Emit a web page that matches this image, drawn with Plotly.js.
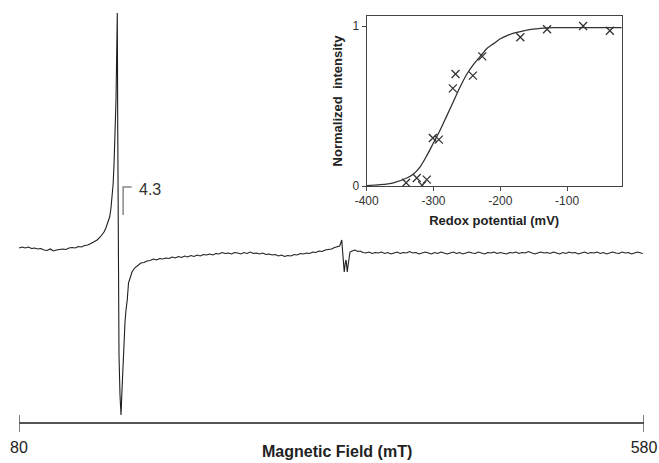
<!DOCTYPE html>
<html>
<head>
<meta charset="utf-8">
<script src="https://cdn.plot.ly/plotly-3.0.1.min.js"></script>
<style>html,body{margin:0;padding:0;background:#fff;}#chart{width:659px;height:463px;}</style>
</head>
<body>
<div id="chart"></div>
<script>
// ---- Main EPR spectrum (magnetic field in mT, signal in arbitrary units) ----
const fieldMT = [80,82.5,85,87.5,90,92.5,95,97.5,100,102.5,105,107.5,110,112.5,115,117.5,120,122.5,125,127.5,130,132.5,135,137.5,140,142.5,145,146.5,148,149.5,151,152.5,153.5,154.5,155.3,156,156.8,157.6,158.2,158.64,159.0,159.44,160.0,160.8,161.6,162.4,163.2,164.0,164.8,165.6,166.6,167.6,168.8,170.4,172.5,175,177.5,180,182.5,185,187.5,190,192.5,195,197.5,200,202.5,205,207.5,210,212.5,215,217.5,220,222.5,225,227.5,230,232.5,235,237.5,240,242.5,245,247.5,250,252.5,255,257.5,260,262.5,265,267.5,270,272.5,275,277.5,280,282.5,285,287.5,290,292.5,295,297.5,300,302.5,305,307.5,310,312.5,315,317.5,320,322.5,325,327.5,330,332.5,335,336.5,337.4,338.2,338.8,339.4,340.2,341.0,341.6,342.1,342.6,343.4,344.8,346.5,348.8,351,353,355,357.5,360,362.5,365,367.5,370,372.5,375,377.5,380,382.5,385,387.5,390,392.5,395,397.5,400,402.5,405,407.5,410,412.5,415,417.5,420,422.5,425,427.5,430,432.5,435,437.5,440,442.5,445,447.5,450,452.5,455,457.5,460,462.5,465,467.5,470,472.5,475,477.5,480,482.5,485,487.5,490,492.5,495,497.5,500,502.5,505,507.5,510,512.5,515,517.5,520,522.5,525,527.5,530,532.5,535,537.5,540,542.5,545,547.5,550,552.5,555,557.5,560,562.5,565,567.5,570,572.5,575,577.5,579];
const signal = [2,3,2,3,1.5,2,1,1.5,0,-0.5,1,-1,0,0.5,1,0.5,2,2.5,2,3.5,3,4.5,5,6.5,8,10,13,15,18,22,27,33,41,52,66,85,110,150,200,237,120,-50,-105,-145,-165,-140,-112,-90,-72,-60,-50,-33,-27,-22,-18,-15.5,-13,-12.5,-11,-10.5,-9,-10,-8.5,-9,-8,-8.5,-7,-8,-6.5,-7.5,-6,-7,-5.5,-6.5,-5,-6,-4.5,-5,-4,-5,-3.5,-4,-2.5,-3.5,-3,-4,-2.5,-3,-4,-2.5,-3.5,-2,-3.5,-3,-4,-3,-4.5,-4,-5,-4.5,-6,-5,-6.5,-5.5,-6,-4.5,-5,-3.5,-4,-3,-3.5,-2,-2.5,-1,-1.5,0,0.5,1,2.5,3,4,7,10,0,-12,-22,-13,-10,-15,-22,-14,-2,-1,0,-1.5,-1,-2.5,-3,-2,-3.5,-2.5,-3,-2,-3.5,-2.5,-4,-3,-2,-3.5,-2.5,-3,-1.5,-3,-2.5,-4,-3,-2,-3,-4,-2.5,-3.5,-2,-3,-4,-3,-2,-3.5,-2.5,-4,-3,-2,-3,-3.5,-2,-3,-4,-2.5,-3,-2,-3.5,-2.5,-3,-4,-2.5,-3,-2,-3.5,-2.5,-3,-1.5,-3,-4,-3,-2,-3,-2.5,-3.5,-2,-3,-4,-2.5,-3.5,-2,-3,-2.5,-4,-3,-2,-3.5,-2.5,-3,-2,-3.5,-2.5,-4,-3,-2,-3,-3.5,-2,-3,-2.5,-4,-3,-2,-3,-3.5];
const fieldTicks = [80, 580];
const fieldTickText = ['80', '580'];

// g = 4.3 marker
const gLabel = '4.3';
const gMarkField = [163.3, 170.2];
const gMarkSignal = [35, 63];

// ---- Inset: redox titration ----
const redoxPotential = [-341,-325,-317,-310,-301,-292,-271,-267,-241,-227,-170,-130,-76,-36];
const normIntensity  = [0.02,0.05,0.004,0.04,0.30,0.29,0.61,0.70,0.69,0.81,0.93,0.98,1.0,0.97];
const fitPotential = [-400,-380,-360,-340,-330,-320,-310,-300,-290,-280,-270,-260,-250,-240,-230,-220,-210,-200,-190,-180,-160,-140,-120,-80,-18];
const fitIntensity = [0.003,0.008,0.02,0.05,0.075,0.12,0.19,0.27,0.35,0.44,0.53,0.62,0.70,0.76,0.81,0.86,0.89,0.92,0.94,0.955,0.975,0.985,0.99,0.99,0.99];
const redoxTicks = [-400,-300,-200,-100];
const redoxTickText = ['-400','-300','-200','-100'];
const intensityTicks = [0, 1];

const FONT = 'Liberation Sans, Arial, Helvetica, sans-serif';

const traces = [
  {x: fieldMT, y: signal, xaxis: 'x', yaxis: 'y', type: 'scatter', mode: 'lines',
   line: {color: '#1e1e1e', width: 1.1}, hoverinfo: 'skip'},
  {x: fitPotential, y: fitIntensity, xaxis: 'x2', yaxis: 'y2', type: 'scatter', mode: 'lines',
   line: {color: '#333', width: 1.3, shape: 'spline', smoothing: 0.8}, hoverinfo: 'skip'},
  {x: redoxPotential, y: normIntensity, xaxis: 'x2', yaxis: 'y2', type: 'scatter', mode: 'markers',
   marker: {symbol: 'x-thin-open', size: 8, color: '#333', line: {color: '#333', width: 1.3}}, hoverinfo: 'skip'}
];

// tick marks crossing the main field axis
const tickShapes = fieldTicks.map(v => ({
  type: 'line', xref: 'x', yref: 'paper', x0: v, x1: v, y0: -0.024, y1: 0.017,
  line: {color: '#555', width: 1.5}
}));

const layout = {
  width: 659, height: 463,
  margin: {l: 19, r: 15, t: 10, b: 41},
  paper_bgcolor: '#fff', plot_bgcolor: 'rgba(0,0,0,0)',
  showlegend: false,
  font: {family: FONT, color: '#222'},
  xaxis: {range: [80, 580], showline: true, linecolor: '#555', linewidth: 1.5,
          ticks: 'outside', ticklen: 10, tickwidth: 1.5, tickcolor: 'rgba(0,0,0,0)',
          tickvals: fieldTicks, ticktext: fieldTickText, tickfont: {size: 16, color: '#222'},
          showgrid: false, zeroline: false, anchor: 'y'},
  yaxis: {range: [-172, 240], visible: false, showgrid: false, zeroline: false},
  xaxis2: {domain: [0.5563, 0.9643], anchor: 'y2', range: [-400, -18.3],
           showline: true, mirror: true, linecolor: '#444', linewidth: 1,
           ticks: 'outside', ticklen: 4, tickcolor: '#444', tickvals: redoxTicks, ticktext: redoxTickText,
           tickfont: {size: 12, color: '#333'}, showgrid: false, zeroline: false,
           title: {text: 'Redox potential (mV)', font: {size: 13, weight: 'bold', color: '#222'}, standoff: 8}},
  yaxis2: {domain: [0.5728, 0.9854], anchor: 'x2', range: [0, 1.0625],
           showline: true, mirror: true, linecolor: '#444', linewidth: 1,
           ticks: 'outside', ticklen: 4, tickcolor: '#444', tickvals: intensityTicks,
           tickfont: {size: 12, color: '#333'}, showgrid: false, zeroline: false,
           title: {text: 'Normalized\u00a0\u00a0intensity', font: {size: 13, weight: 'bold', color: '#222'}, standoff: 7}},
  shapes: tickShapes.concat([
    {type: 'path', xref: 'x', yref: 'y',
     path: 'M ' + gMarkField[0] + ',' + gMarkSignal[0] + ' L ' + gMarkField[0] + ',' + gMarkSignal[1] + ' L ' + gMarkField[1] + ',' + gMarkSignal[1],
     line: {color: '#888', width: 1.5}}
  ]),
  annotations: [
    {text: gLabel, xref: 'x', yref: 'y', x: gMarkField[1] + 4.5, y: gMarkSignal[1] - 2,
     xanchor: 'left', yanchor: 'middle', showarrow: false, font: {size: 16, color: '#333'}},
    {text: 'Magnetic Field (mT)', xref: 'paper', yref: 'paper', x: 0.508, y: -0.0716,
     xanchor: 'center', yanchor: 'middle', showarrow: false, font: {size: 16, weight: 'bold', color: '#222'}}
  ]
};

Plotly.newPlot('chart', traces, layout, {displayModeBar: false, staticPlot: true});
</script>
</body>
</html>
